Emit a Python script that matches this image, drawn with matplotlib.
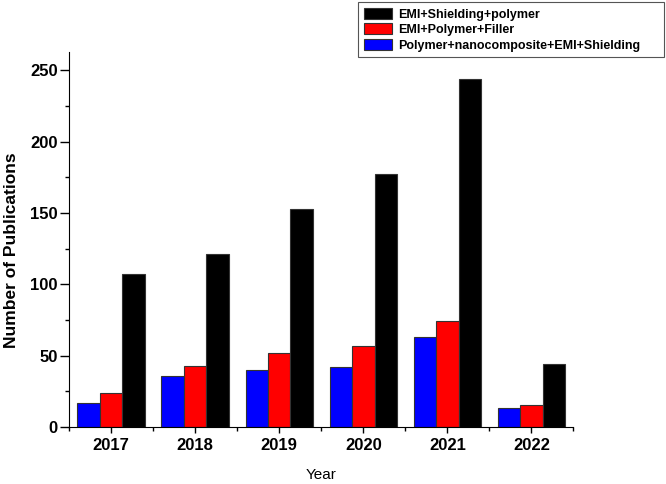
import numpy as np
import matplotlib.pyplot as plt
from matplotlib.ticker import MultipleLocator

# publication counts
years = ['2017', '2018', '2019', '2020', '2021', '2022']
nano_emi = [17, 36, 40, 42, 63, 13]
emi_filler = [24, 43, 52, 57, 74, 15]
emi_shielding = [107, 121, 153, 177, 244, 44]

plt.rcParams['font.family'] = ['Liberation Sans', 'DejaVu Sans']

fig = plt.figure(figsize=(6.66, 4.84), dpi=100)
ax = fig.add_axes([0.1036, 0.118, 0.7575, 0.775])

x = np.arange(len(years))
w = 0.267
ax.bar(x - w, nano_emi, w, color='#0000ff', edgecolor='#333333', linewidth=0.8,
       label='Polymer+nanocomposite+EMI+Shielding')
ax.bar(x, emi_filler, w, color='#ff0000', edgecolor='#333333', linewidth=0.8,
       label='EMI+Polymer+Filler')
ax.bar(x + w, emi_shielding, w, color='#000000', edgecolor='#333333', linewidth=0.8,
       label='EMI+Shielding+polymer')

ax.set_xlim(-0.5, len(years) - 0.5)
ax.set_ylim(0, 263)
ax.set_xticks(x)
ax.set_xticklabels(years, fontsize=12, fontweight='bold')
ax.xaxis.set_minor_locator(MultipleLocator(1, offset=0.5))
ax.yaxis.set_major_locator(MultipleLocator(50))
ax.yaxis.set_minor_locator(MultipleLocator(25))
for lab in ax.get_yticklabels():
    lab.set_fontsize(12)
    lab.set_fontweight('bold')

ax.tick_params(axis='x', which='major', direction='out', length=4.5, width=1)
ax.tick_params(axis='y', which='major', direction='out', length=6.5, width=1, pad=1.5)
ax.tick_params(which='minor', direction='out', length=3, width=1)
ax.spines['top'].set_visible(False)
ax.spines['right'].set_visible(False)

ax.set_xlabel('Year', fontsize=11)
ax.xaxis.set_label_coords(0.5, -0.11)
# place the y label by hand: centre about 12 px from the left edge
ax.set_ylabel('Number of Publications', fontsize=12.5, fontweight='bold',
              ha='center', va='center')
ax.yaxis.set_label_coords(-0.113, 0.47)

# legend order as in the reference: black, red, blue
handles, labels = ax.get_legend_handles_labels()
leg = fig.legend(handles[::-1], labels[::-1], loc='upper left',
                 bbox_to_anchor=(358 / 666, 0.5, 306 / 666, 0.495),
                 mode='expand', borderaxespad=0, fancybox=False,
                 edgecolor='#555555', framealpha=1,
                 prop={'size': 9, 'weight': 'bold'},
                 handlelength=2.3, handleheight=0.95, borderpad=0.45,
                 labelspacing=0.22, handletextpad=0.45)
leg.get_frame().set_linewidth(0.8)

fig.savefig('out.png', dpi=100)
